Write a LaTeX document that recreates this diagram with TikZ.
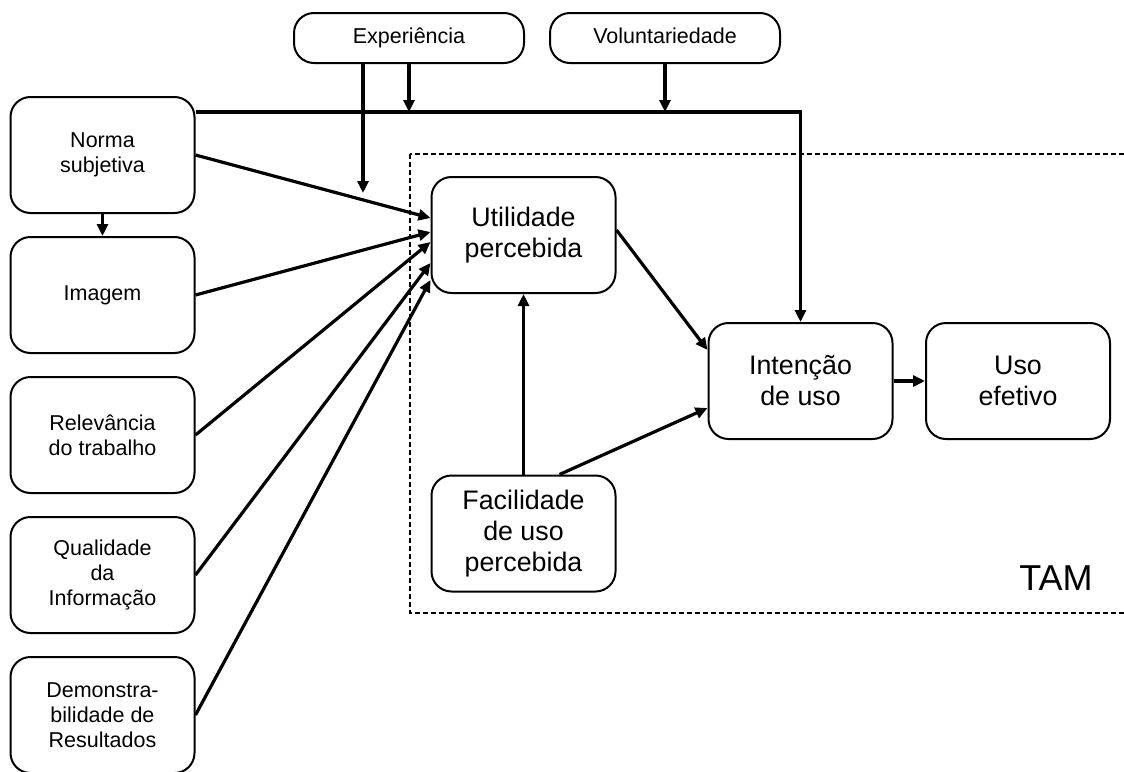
\documentclass[tikz,border=0pt]{standalone}
\usepackage{fontspec}
\setmainfont{Liberation Sans}
\usetikzlibrary{arrows.meta}

\tikzset{
  box/.style={draw, line width=1pt, rounded corners=10pt, align=center,
    minimum width=92pt, minimum height=58pt, inner sep=0pt,
    font=\fontsize{10.75}{12.5}\selectfont},
  bigbox/.style={box, font=\fontsize{13.4}{15.5}\selectfont},
  topbox/.style={box, minimum width=115pt, minimum height=25pt,
    text height=8pt, text depth=2.5pt},
  arr/.style={-{Triangle[length=6pt,width=5.5pt]}, line width=1.6pt},
  tamframe/.style={dash pattern=on 2.5pt off 1.5pt, line width=0.6pt}
}

\begin{document}
\begin{tikzpicture}[x=0.5pt,y=-0.5pt]

\useasboundingbox (0,0) rectangle (1124,771);

\coordinate (Exp) at (409,38);
\coordinate (Vol) at (665,38);
\coordinate (Norma) at (102.5,155);
\coordinate (Imagem) at (102.5,295);
\coordinate (Relev) at (102.5,435);
\coordinate (Qual) at (102.5,575);
\coordinate (Demo) at (102.5,715);
\coordinate (Util) at (523.5,235);
\coordinate (Facil) at (523.5,533.5);
\coordinate (Int) at (800.5,381);
\coordinate (Uso) at (1018,381);

\draw [tamframe] (410,154) rectangle (1140,613);
\node [font=\fontsize{18}{18}\selectfont] (tam-label) at (1056,578) {TAM};

\node [topbox] (experiencia) at (Exp) {Experiência};
\node [topbox] (voluntariedade) at (Vol) {Voluntariedade};
\node [box] (norma) at (Norma) {Norma\\subjetiva};
\node [box] (imagem) at (Imagem) {Imagem};
\node [box] (relevancia) at (Relev) {Relevância\\do trabalho};
\node [box] (qualidade) at (Qual) {Qualidade\\da\\Informação};
\node [box] (demonstra) at (Demo) {Demonstra-\\bilidade de\\Resultados};
\node [bigbox] (utilidade) at (Util) {Utilidade\\percebida};
\node [bigbox] (facilidade) at (Facil) {Facilidade\\de uso\\percebida};
\node [bigbox] (intencao) at (Int) {Intenção\\de uso};
\node [bigbox] (uso) at (Uso) {Uso\\efetivo};

\coordinate (norma-line) at ([yshift=21.5pt]norma.east);
\coordinate (exp-end) at (363,193);

\draw [arr] (norma-line) -| (intencao.north);
\draw [arr] (experiencia.south) -- (experiencia.south |- norma-line);
\draw [arr] (voluntariedade.south) -- (voluntariedade.south |- norma-line);
\draw [arr] ([xshift=-23pt]experiencia.south) -- (exp-end);

\draw [arr] (norma.south) -- (imagem.north);
\draw [arr] (norma.east) -- ([yshift=8.5pt]utilidade.west);
\draw [arr] (imagem.east) -- ([yshift=1.5pt]utilidade.west);
\draw [arr] (relevancia.east) -- ([yshift=-3.5pt]utilidade.west);
\draw [arr] (qualidade.east) -- ([yshift=-14pt]utilidade.west);
\draw [arr] (demonstra.east) -- ([yshift=-22.5pt]utilidade.west);

\draw [arr] (facilidade.north) -- (utilidade.south);
\draw [arr] ([xshift=18pt]facilidade.north) -- ([yshift=-13.5pt]intencao.west);
\draw [arr] ([yshift=2.5pt]utilidade.east) -- ([yshift=15.5pt]intencao.west);
\draw [arr] (intencao.east) -- (uso.west);

\end{tikzpicture}
\end{document}
